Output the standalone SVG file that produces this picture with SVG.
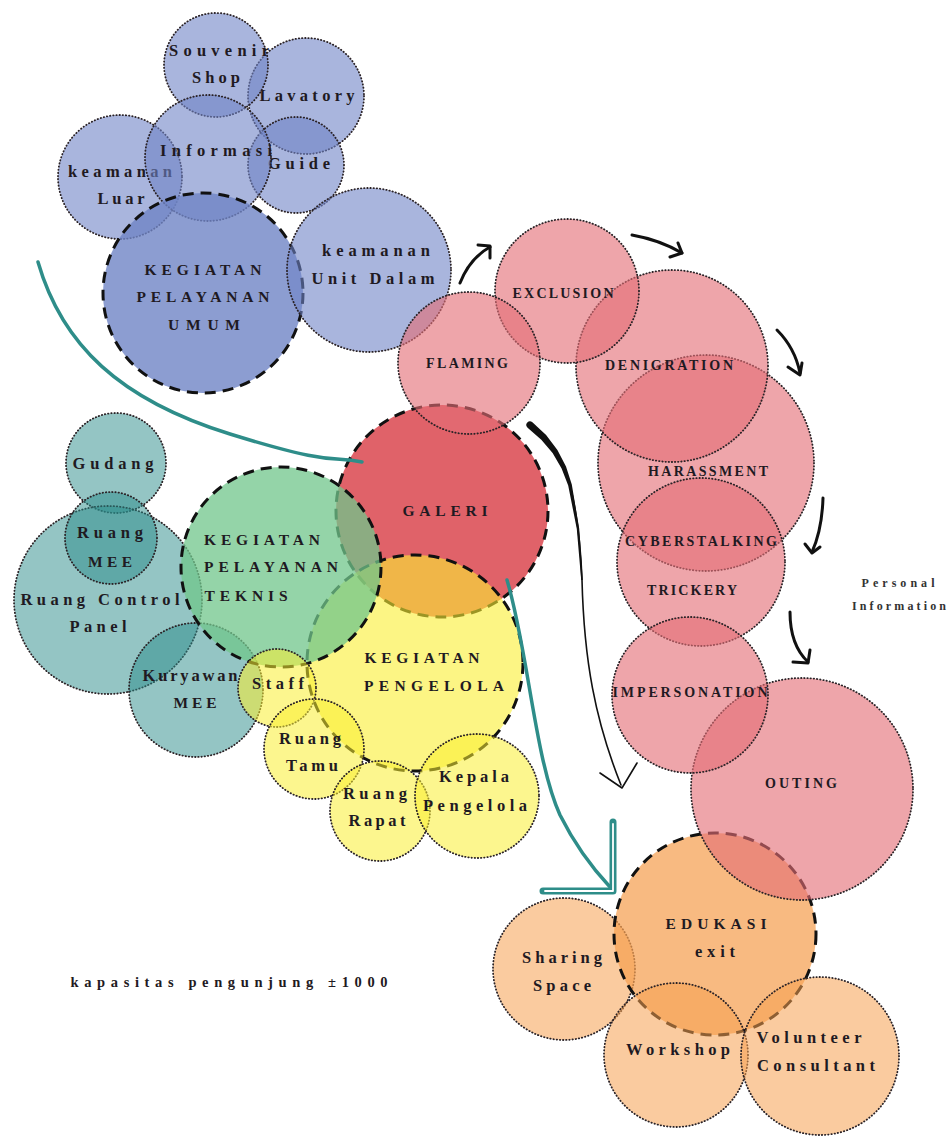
<svg xmlns="http://www.w3.org/2000/svg" width="951" height="1138" viewBox="0 0 951 1138">
<style>
.dot{stroke:#2a2226;stroke-width:1.8;stroke-dasharray:0.4 2.8;stroke-linecap:round}
.dash{stroke:#111;stroke-width:3;stroke-dasharray:11 7}
.blue{fill:#6f84c6;fill-opacity:0.6}
.blueM{fill:#6f84c6;fill-opacity:0.8}
.red{fill:#e46d76;fill-opacity:0.62}
.gal{fill:#df5c63;fill-opacity:0.96}
.teal{fill:#2a8c8a;fill-opacity:0.5}
.green{fill:#70c68b;fill-opacity:0.75}
.yel{fill:#faee32;fill-opacity:0.55}
.yelM{fill:#faee32;fill-opacity:0.6}
.org{fill:#f5a050;fill-opacity:0.55}
.orgM{fill:#f5a050;fill-opacity:0.72}
text{font-family:"Liberation Serif","Times New Roman",serif;font-weight:bold;fill:#1f1a22;text-anchor:middle}
.l{font-size:16.5px}
.c{font-size:15.5px}
.r{font-size:14px}
.s{font-size:12px;fill:#333}
.con{fill:none;stroke-linecap:round;stroke-linejoin:round}
.tl{stroke:#2e8d89;stroke-width:3.5}
.bk{stroke:#111;stroke-width:3}
</style>

<!-- orange -->
<g id="sharing-space"><circle class="org dot" cx="564" cy="969" r="71"/><text class="l" x="562" y="963" textLength="80" lengthAdjust="spacing">Sharing</text><text class="l" x="562" y="991" textLength="58" lengthAdjust="spacing">Space</text></g>
<g id="edukasi"><circle class="orgM dash" cx="715" cy="934" r="101"/><text class="c" x="716" y="929" textLength="101" lengthAdjust="spacing">EDUKASI</text><text class="l" x="715" y="957" textLength="40" lengthAdjust="spacing">exit</text></g>
<g id="workshop"><circle class="org dot" cx="676" cy="1055" r="72"/><text class="l" x="678" y="1055" textLength="104" lengthAdjust="spacing">Workshop</text></g>
<g id="volunteer-consultant"><circle class="org dot" cx="820" cy="1056" r="79"/><text class="l" x="809" y="1043" textLength="105" lengthAdjust="spacing">Volunteer</text><text class="l" x="816" y="1071" textLength="118" lengthAdjust="spacing">Consultant</text></g>

<!-- galeri -->
<g id="galeri"><circle class="gal dash" cx="442" cy="511" r="106"/><text class="c" x="445" y="516" textLength="85" lengthAdjust="spacing">GALERI</text></g>

<!-- yellow big -->
<g id="kegiatan-pengelola"><circle class="yelM dash" cx="415" cy="663" r="108"/><text class="c" x="422" y="663" textLength="115" lengthAdjust="spacing">KEGIATAN</text><text class="c" x="434" y="691" textLength="140" lengthAdjust="spacing">PENGELOLA</text></g>

<!-- teal -->
<g id="gudang"><circle class="teal dot" cx="116" cy="463" r="50"/><text class="l" x="113" y="469" textLength="81" lengthAdjust="spacing">Gudang</text></g>
<g id="ruang-control-panel"><circle class="teal dot" cx="108" cy="600" r="94"/><text class="l" x="100" y="605" textLength="159" lengthAdjust="spacing">Ruang Control</text><text class="l" x="98" y="632" textLength="57" lengthAdjust="spacing">Panel</text></g>
<g id="ruang-mee"><circle class="teal dot" cx="111" cy="538" r="46"/><text class="l" x="110" y="538" textLength="66" lengthAdjust="spacing">Ruang</text><text class="c" x="110" y="567" textLength="44" lengthAdjust="spacing">MEE</text></g>
<g id="kuryawan-mee"><circle class="teal dot" cx="196" cy="690" r="67"/><text class="l" x="190" y="681" textLength="95" lengthAdjust="spacing">Kuryawan</text><text class="c" x="195" y="708" textLength="43" lengthAdjust="spacing">MEE</text></g>

<!-- green -->
<g id="kegiatan-pelayanan-teknis"><circle class="green dash" cx="281" cy="567" r="100"/><text class="c" x="262" y="545" textLength="116" lengthAdjust="spacing">KEGIATAN</text><text class="c" x="271" y="572" textLength="134" lengthAdjust="spacing">PELAYANAN</text><text class="c" x="246" y="601" textLength="83" lengthAdjust="spacing">TEKNIS</text></g>

<!-- yellow small -->
<g id="staff"><circle class="yel dot" cx="277" cy="688" r="39"/><text class="l" x="278" y="689" textLength="52" lengthAdjust="spacing">Staff</text></g>
<g id="ruang-tamu"><circle class="yel dot" cx="314" cy="749" r="50"/><text class="l" x="310" y="744" textLength="62" lengthAdjust="spacing">Ruang</text><text class="l" x="312" y="771" textLength="52" lengthAdjust="spacing">Tamu</text></g>
<g id="ruang-rapat"><circle class="yel dot" cx="380" cy="811" r="50"/><text class="l" x="375" y="799" textLength="64" lengthAdjust="spacing">Ruang</text><text class="l" x="377" y="826" textLength="57" lengthAdjust="spacing">Rapat</text></g>
<g id="kepala-pengelola"><circle class="yel dot" cx="477" cy="796" r="62"/><text class="l" x="474" y="782" textLength="70" lengthAdjust="spacing">Kepala</text><text class="l" x="475" y="811" textLength="104" lengthAdjust="spacing">Pengelola</text></g>

<!-- blue -->
<g id="lavatory"><circle class="blue dot" cx="306" cy="96" r="58"/><text class="l" x="307" y="101" textLength="95" lengthAdjust="spacing">Lavatory</text></g>
<g id="souvenir-shop"><circle class="blue dot" cx="216" cy="65" r="52"/><text class="l" x="219" y="56" textLength="100" lengthAdjust="spacing">Souvenir</text><text class="l" x="216" y="83" textLength="48" lengthAdjust="spacing">Shop</text></g>
<g id="guide"><circle class="blue dot" cx="296" cy="165" r="48"/><text class="l" x="299" y="169" textLength="62" lengthAdjust="spacing">Guide</text></g>
<g id="keamanan-luar"><circle class="blue dot" cx="120" cy="177" r="62"/><text class="l" x="120" y="177" textLength="104" lengthAdjust="spacing">keamanan</text><text class="l" x="121" y="204" textLength="47" lengthAdjust="spacing">Luar</text></g>
<g id="informasi"><circle class="blue dot" cx="208" cy="158" r="63"/><text class="l" x="216" y="156" textLength="112" lengthAdjust="spacing">Informasi</text></g>
<g id="kegiatan-pelayanan-umum"><circle class="blueM dash" cx="203" cy="293" r="100"/><text class="c" x="203" y="275" textLength="117" lengthAdjust="spacing">KEGIATAN</text><text class="c" x="203" y="302" textLength="133" lengthAdjust="spacing">PELAYANAN</text><text class="c" x="204" y="330" textLength="72" lengthAdjust="spacing">UMUM</text></g>
<g id="keamanan-unit-dalam"><circle class="blue dot" cx="369" cy="270" r="82"/><text class="l" x="376" y="256" textLength="108" lengthAdjust="spacing">keamanan</text><text class="l" x="373" y="284" textLength="123" lengthAdjust="spacing">Unit Dalam</text></g>

<!-- red -->
<g id="harassment"><circle class="red dot" cx="706" cy="463" r="108"/><text class="r" x="708" y="476" textLength="120" lengthAdjust="spacing">HARASSMENT</text></g>
<g id="cyberstalking-trickery"><circle class="red dot" cx="701" cy="562" r="84"/><text class="r" x="701" y="546" textLength="152" lengthAdjust="spacing">CYBERSTALKING</text><text class="r" x="692" y="595" textLength="90" lengthAdjust="spacing">TRICKERY</text></g>
<g id="outing"><circle class="red dot" cx="802" cy="789" r="111"/><text class="r" x="801" y="788" textLength="72" lengthAdjust="spacing">OUTING</text></g>
<g id="impersonation"><circle class="red dot" cx="690" cy="695" r="78"/><text class="r" x="690" y="697" textLength="155" lengthAdjust="spacing">IMPERSONATION</text></g>
<g id="denigration"><circle class="red dot" cx="672" cy="366" r="96"/><text class="r" x="669" y="370" textLength="128" lengthAdjust="spacing">DENIGRATION</text></g>
<g id="exclusion"><circle class="red dot" cx="567" cy="291" r="72"/><text class="r" x="563" y="298" textLength="101" lengthAdjust="spacing">EXCLUSION</text></g>
<g id="flaming"><circle class="red dot" cx="469" cy="363" r="71"/><text class="r" x="467" y="368" textLength="82" lengthAdjust="spacing">FLAMING</text></g>

<!-- connectors -->
<g id="connectors" class="con">
<path class="con tl" d="M38 262 C62 345 120 400 230 434 S330 455 362 462"/>
<path class="con tl" d="M507 580 C528 650 535 760 560 815 Q580 855 610 887"/>
<path class="con" d="M613 822 L613 891 L543 891" stroke="#2e8d89" stroke-width="7" stroke-linecap="butt" stroke-linejoin="miter"/>
<path class="con" d="M613 824 L613 891 L545 891" stroke="#ffffff" stroke-width="1.8" stroke-linecap="butt" stroke-linejoin="miter"/>
<path class="con" d="M530 425 Q560 448 570 485 Q580 525 582 580 C584 660 595 720 621 785" stroke="#111" stroke-width="1.6"/>
<path d="M527.6 427.7 A3.6 3.6 0 0 1 532.4 422.3 L546.1 435.1 L557.4 449.9 L566 466.4 L571.8 484.5 L579.2 528.6 L582.8 579.9 L581.2 580.1 L576.8 528.9 L568.2 485.5 L561.6 468.4 L552.6 453.1 L541.3 439.7 Z" fill="#111"/>
<path class="con" d="M600 773 L622 788 L637 763" stroke="#111" stroke-width="1.6"/>
<path class="con bk" d="M460 283 Q470 258 490 247"/>
<path class="con" d="M478 245 L490 246 L490 258" stroke="#111" stroke-width="3"/>
<path class="con bk" d="M632 235 Q660 240 682 253"/>
<path class="con" d="M670 257 L682 253 L678 243" stroke="#111" stroke-width="3"/>
<path class="con bk" d="M777 330 Q795 348 800 373"/>
<path class="con" d="M788 367 L800 375 L802 363" stroke="#111" stroke-width="3"/>
<path class="con bk" d="M823 498 Q822 530 812 552"/>
<path class="con" d="M805 544 L812 553 L820 547" stroke="#111" stroke-width="3"/>
<path class="con bk" d="M790 612 Q790 645 808 662"/>
<path class="con" d="M793 662 L808 663 L810 650" stroke="#111" stroke-width="3"/>
</g>

<g id="notes">
<text class="l" x="229" y="987" textLength="317" lengthAdjust="spacing" style="font-size:14.5px">kapasitas pengunjung ±1000</text>
<text class="s" x="898" y="587" textLength="73" lengthAdjust="spacing">Personal</text>
<text class="s" x="899" y="610" textLength="94" lengthAdjust="spacing">Information</text>
</g>
</svg>
